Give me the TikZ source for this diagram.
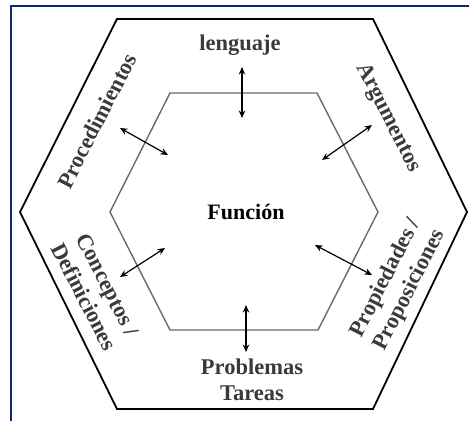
\documentclass[tikz,border=0pt]{standalone}
\usepackage{fontspec}
\setmainfont{Liberation Serif}
\usetikzlibrary{arrows.meta}
\definecolor{framecol}{HTML}{0B2A6B}
\definecolor{txtcol}{HTML}{3A3A3A}
\definecolor{innercol}{HTML}{6A6A6A}
\tikzset{
  lbl/.style={font=\fontsize{22.5}{26.5}\selectfont\bfseries, text=txtcol, align=center, inner sep=0pt},
  ctr/.style={font=\fontsize{22}{26}\selectfont\bfseries, text=black, inner sep=0pt},
  dbl/.style={{Stealth[length=7.5pt,width=6.5pt]}-{Stealth[length=7.5pt,width=6.5pt]}, line width=1.2pt, black},
  outerhex/.style={line width=1.8pt, black, line join=miter},
  innerhex/.style={line width=1.4pt, innercol, line join=miter},
  framebox/.style={line width=2pt, framecol}
}
\begin{document}
\begin{tikzpicture}[x=1pt,y=-1pt]
\useasboundingbox (0,0) rectangle (469,421);
% frame
\draw[framebox] (11,421) -- (11,6) -- (469,6);
% hexagons
\draw[outerhex] (117,19) -- (373,19) -- (467,212) -- (373,409) -- (117,409) -- (20,212) -- cycle;
\draw[innerhex] (170,93) -- (317,93) -- (378,212) -- (318,330) -- (170,330) -- (110,212) -- cycle;
% labels
\node[ctr] (fun) at (246,212) {Función};
\node[lbl] (len) at (240,45) {lenguaje};
\node[lbl] (pro) at (252,380) {Problemas\\Tareas};
\node[lbl, rotate=63] (proc) at (97,121) {Procedimientos};
\node[lbl, rotate=-63] (arg) at (388,118) {Argumentos};
\node[lbl, rotate=-63] (con) at (96,291) {Conceptos /\\Definiciones};
\node[lbl, rotate=63] (prop) at (398,284) {Propiedades /\\Proposiciones};
% arrow endpoints
\coordinate (t1) at (242,67);  \coordinate (t2) at (242,118);
\coordinate (b1) at (246,305); \coordinate (b2) at (246,352);
\coordinate (ul1) at (120,128); \coordinate (ul2) at (168,155);
\coordinate (ur1) at (372,125); \coordinate (ur2) at (322,160);
\coordinate (ll1) at (165,248); \coordinate (ll2) at (120,277);
\coordinate (lr1) at (315,245); \coordinate (lr2) at (372,275);
\draw[dbl] (t1) -- (t2);
\draw[dbl] (b1) -- (b2);
\draw[dbl] (ul1) -- (ul2);
\draw[dbl] (ur1) -- (ur2);
\draw[dbl] (ll1) -- (ll2);
\draw[dbl] (lr1) -- (lr2);
\end{tikzpicture}
\end{document}
